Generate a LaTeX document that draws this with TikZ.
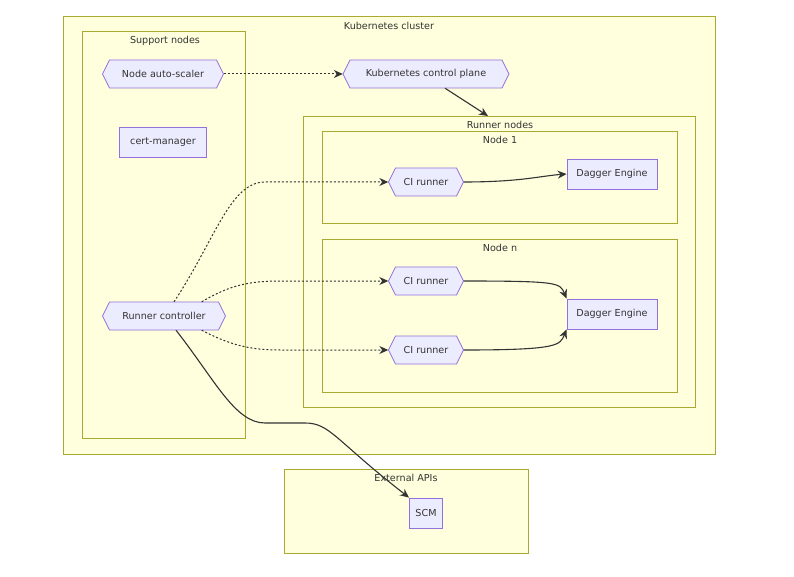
\documentclass[tikz,border=0pt]{standalone}
\usepackage{fontspec}
\setmainfont{DejaVu Sans}
\usetikzlibrary{arrows.meta}
\definecolor{cfill}{HTML}{FFFFDE}
\definecolor{cline}{HTML}{AAAA33}
\definecolor{nfill}{HTML}{ECECFF}
\definecolor{nline}{HTML}{9370DB}
\definecolor{ed}{HTML}{333333}
\newcommand\hx[5]{%
 \draw[draw=nline,fill=nfill,line width=0.8pt] (#2-#4/2,#3) -- (#2-#4/2+7,#3-14) -- (#2+#4/2-7,#3-14) -- (#2+#4/2,#3) -- (#2+#4/2-7,#3+14) -- (#2-#4/2+7,#3+14) -- cycle;
 \node[minimum width=#4pt,minimum height=28pt,text=ed,inner sep=0pt] (#1) at (#2,#3) {#5};}
\begin{document}
\begin{tikzpicture}[x=1pt,y=-1pt,font=\fontsize{9.6}{11}\selectfont,
 clu/.style={draw=cline,fill=cfill,line width=0.8pt},
 ttl/.style={anchor=center,text=ed},
 rect/.style={draw=nline,fill=nfill,line width=0.8pt,minimum height=30pt,inner xsep=6pt,text=ed},
 e/.style={draw=ed,line width=1.1pt,-{Stealth[length=9pt,width=8pt]}},
 d/.style={e,line width=1pt,dash pattern=on 2pt off 2pt}]
\useasboundingbox (0,0) rectangle (794,577);
\draw[clu] (63,16) rectangle (715,454); \node[ttl] at (389,26) {Kubernetes cluster};
\draw[clu] (82,31) rectangle (245,438); \node[ttl] at (165,41) {Support nodes};
\draw[clu] (303,116) rectangle (695,407); \node[ttl] at (500,125) {Runner nodes};
\draw[clu] (322,131) rectangle (677,223); \node[ttl] at (500,140) {Node 1};
\draw[clu] (322,239) rectangle (677,392); \node[ttl] at (500,248) {Node n};
\draw[clu] (284,469) rectangle (528,553); \node[ttl] at (406,478) {External APIs};
\coordinate (rn) at (488,116);
\hx{as}{163}{74}{121}{Node auto-scaler}
\hx{cp}{426}{74}{166}{Kubernetes control plane}
\node[rect,minimum width=87pt] (cm) at (163,142) {cert-manager};
\hx{c1}{426}{182}{75}{CI runner}
\node[rect,minimum width=90pt] (d1) at (612,174) {Dagger Engine};
\hx{c2}{426}{281}{75}{CI runner}
\hx{c3}{426}{350}{75}{CI runner}
\node[rect,minimum width=90pt] (d2) at (612,314) {Dagger Engine};
\hx{rc}{164}{316}{123}{Runner controller}
\node[rect,minimum width=33pt] (scm) at (426,513) {SCM};
\draw[d] (as) -- (cp);
\draw[e] (cp.south) ++(19,0) coordinate (cpo) (cpo) -- (rn);
\draw[e] (c1.east) .. controls (520,182) and (540,176) .. (d1.west);
\draw[e] (c2.east) .. controls (560,281) and (560,283) .. (d2.north west);
\draw[e] (c3.east) .. controls (560,350) and (560,345) .. (d2.south west);
\draw[d] (rc.north) ++(10,0) coordinate (r1) (r1) .. controls (215,240) and (230,182) .. (265,182) -- (c1.west);
\draw[d] (rc.north east) ++(-24,0) coordinate (r2) (r2) .. controls (230,285) and (250,281) .. (280,281) -- (c2.west);
\draw[d] (rc.south east) ++(-24,0) coordinate (r3) (r3) .. controls (230,345) and (250,350) .. (280,350) -- (c3.west);
\draw[e] (rc.south) ++(12,0) coordinate (r4) (r4) .. controls (215,380) and (235,423) .. (265,423) -- (305,423) .. controls (330,423) and (335,440) .. (scm.north west);
\end{tikzpicture}
\end{document}
